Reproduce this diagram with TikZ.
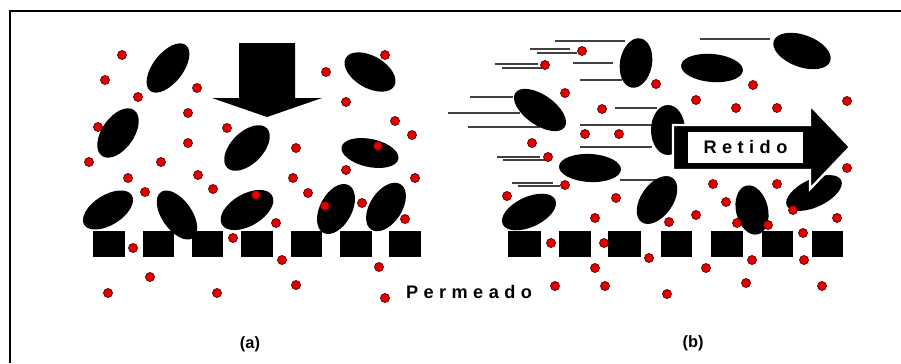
\documentclass[tikz,border=0pt]{standalone}
\usepackage{fontspec}
\setmainfont{Liberation Sans}
\newfontfamily\widefont[LetterSpace=30]{Liberation Sans}

\begin{document}
\begin{tikzpicture}[x=0.03cm, y=-0.03cm]

% definitions
\tikzstyle{particle} = [fill=black]
\tikzstyle{solute} = [draw=red!35!black, fill=red!90!black, line width=0.6pt]
\tikzstyle{membrane} = [fill=black]
\tikzstyle{trail} = [draw=black!75, line width=0.9pt]
\tikzstyle{caption} = [font=\widefont\bfseries\fontsize{15.5}{18}\selectfont]
\tikzstyle{tag} = [font=\bfseries\fontsize{14}{16}\selectfont]

\useasboundingbox (0,0) rectangle (901,363);

% frame
\draw [line width=1.7pt] (10,363) -- (10,11) -- (901,11);

% motion lines (cross flow)
\draw [trail] (555,41) -- (625,41);
\draw [trail] (530,49) -- (570,49);
\draw [trail] (537,53) -- (577,53);
\draw [trail] (495,64) -- (538,64);
\draw [trail] (502,68) -- (542,68);
\draw [trail] (573,63) -- (613,63);
\draw [trail] (580,80) -- (622,80);
\draw [trail] (470,97) -- (513,97);
\draw [trail] (448,113) -- (520,113);
\draw [trail] (468,127) -- (540,127);
\draw [trail] (615,108) -- (657,108);
\draw [trail] (580,125) -- (653,125);
\draw [trail] (580,147) -- (652,147);
\draw [trail] (497,157) -- (540,157);
\draw [trail] (503,160) -- (545,160);
\draw [trail] (512,183) -- (553,183);
\draw [trail] (518,186) -- (560,186);
\draw [trail] (620,180) -- (660,180);
\draw [trail] (700,39) -- (770,39);

% large particles, dead-end filtration
\fill [particle] (168,68) ellipse [x radius=29, y radius=15, rotate=52];
\fill [particle] (370,72) ellipse [x radius=28, y radius=16, rotate=-30];
\fill [particle] (118,133) ellipse [x radius=28, y radius=16, rotate=55];
\fill [particle] (247,148) ellipse [x radius=28, y radius=16, rotate=45];
\fill [particle] (370,153) ellipse [x radius=29, y radius=14, rotate=-12];
\fill [particle] (108,210) ellipse [x radius=28, y radius=15, rotate=32];
\fill [particle] (177,215) ellipse [x radius=28, y radius=15, rotate=-55];
\fill [particle] (247,210) ellipse [x radius=29, y radius=16, rotate=30];
\fill [particle] (336,209) ellipse [x radius=27, y radius=16, rotate=62];
\fill [particle] (386,207) ellipse [x radius=27, y radius=16, rotate=57];

% large particles, cross-flow filtration
\fill [particle] (636,63) ellipse [x radius=25, y radius=16, rotate=80];
\fill [particle] (712,68) ellipse [x radius=31, y radius=14, rotate=-5];
\fill [particle] (802,51) ellipse [x radius=30, y radius=16, rotate=-20];
\fill [particle] (540,110) ellipse [x radius=30, y radius=15, rotate=-35];
\fill [particle] (590,168) ellipse [x radius=31, y radius=14, rotate=-3];
\fill [particle] (668,130) ellipse [x radius=25, y radius=17, rotate=90];
\fill [particle] (529,212) ellipse [x radius=29, y radius=15, rotate=25];
\fill [particle] (657,200) ellipse [x radius=27, y radius=16, rotate=55];
\fill [particle] (752,210) ellipse [x radius=25, y radius=16, rotate=103];
\fill [particle] (814,193) ellipse [x radius=30, y radius=14, rotate=25];

% membrane
\fill [membrane] (93,231) rectangle (125,257);
\fill [membrane] (143,231) rectangle (174,257);
\fill [membrane] (192,231) rectangle (223,257);
\fill [membrane] (241,231) rectangle (273,257);
\fill [membrane] (291,231) rectangle (322,257);
\fill [membrane] (340,231) rectangle (372,257);
\fill [membrane] (389,231) rectangle (421,257);

\fill [membrane] (508,231) rectangle (541,257);
\fill [membrane] (559,231) rectangle (591,257);
\fill [membrane] (608,231) rectangle (641,257);
\fill [membrane] (661,231) rectangle (692,257);
\fill [membrane] (711,231) rectangle (743,257);
\fill [membrane] (762,231) rectangle (793,257);
\fill [membrane] (812,231) rectangle (843,257);

% feed direction
\fill (239,43) -- (295,43) -- (295,98) -- (322,98) -- (267,117) -- (212,98) -- (239,98) -- cycle;

% retentate direction
\filldraw [draw=white, line width=2pt, line join=miter] (673,125) -- (810,125) -- (810,105) -- (850,147) -- (810,189) -- (810,170) -- (673,170) -- cycle;
\node (retained) [caption, fill=white, inner sep=0pt, minimum width=3.45cm, minimum height=0.93cm] at (745.5,147.5) {Retido};

% solutes, left
\draw [solute] (122,55) circle [radius=4.5];
\draw [solute] (105,80) circle [radius=4.5];
\draw [solute] (138,97) circle [radius=4.5];
\draw [solute] (197,88) circle [radius=4.5];
\draw [solute] (188,113) circle [radius=4.5];
\draw [solute] (98,127) circle [radius=4.5];
\draw [solute] (227,128) circle [radius=4.5];
\draw [solute] (188,143) circle [radius=4.5];
\draw [solute] (296,148) circle [radius=4.5];
\draw [solute] (326,72) circle [radius=4.5];
\draw [solute] (385,55) circle [radius=4.5];
\draw [solute] (346,102) circle [radius=4.5];
\draw [solute] (395,121) circle [radius=4.5];
\draw [solute] (412,135) circle [radius=4.5];
\draw [solute] (378,146) circle [radius=4.5];
\draw [solute] (89,162) circle [radius=4.5];
\draw [solute] (161,162) circle [radius=4.5];
\draw [solute] (128,178) circle [radius=4.5];
\draw [solute] (198,175) circle [radius=4.5];
\draw [solute] (293,178) circle [radius=4.5];
\draw [solute] (346,170) circle [radius=4.5];
\draw [solute] (415,178) circle [radius=4.5];
\draw [solute] (145,192) circle [radius=4.5];
\draw [solute] (213,189) circle [radius=4.5];
\draw [solute] (256,195) circle [radius=4.5];
\draw [solute] (308,193) circle [radius=4.5];
\draw [solute] (325,206) circle [radius=4.5];
\draw [solute] (362,203) circle [radius=4.5];
\draw [solute] (405,219) circle [radius=4.5];
\draw [solute] (276,223) circle [radius=4.5];
\draw [solute] (233,238) circle [radius=4.5];
\draw [solute] (133,248) circle [radius=4.5];
\draw [solute] (282,260) circle [radius=4.5];
\draw [solute] (379,267) circle [radius=4.5];
\draw [solute] (150,277) circle [radius=4.5];
\draw [solute] (296,285) circle [radius=4.5];
\draw [solute] (108,293) circle [radius=4.5];
\draw [solute] (217,293) circle [radius=4.5];
\draw [solute] (385,298) circle [radius=4.5];

% solutes, right
\draw [solute] (582,51) circle [radius=4.5];
\draw [solute] (545,65) circle [radius=4.5];
\draw [solute] (565,93) circle [radius=4.5];
\draw [solute] (656,84) circle [radius=4.5];
\draw [solute] (696,100) circle [radius=4.5];
\draw [solute] (753,85) circle [radius=4.5];
\draw [solute] (736,108) circle [radius=4.5];
\draw [solute] (777,108) circle [radius=4.5];
\draw [solute] (847,101) circle [radius=4.5];
\draw [solute] (602,109) circle [radius=4.5];
\draw [solute] (585,134) circle [radius=4.5];
\draw [solute] (619,134) circle [radius=4.5];
\draw [solute] (532,143) circle [radius=4.5];
\draw [solute] (548,157) circle [radius=4.5];
\draw [solute] (847,168) circle [radius=4.5];
\draw [solute] (565,185) circle [radius=4.5];
\draw [solute] (507,196) circle [radius=4.5];
\draw [solute] (616,198) circle [radius=4.5];
\draw [solute] (713,184) circle [radius=4.5];
\draw [solute] (777,184) circle [radius=4.5];
\draw [solute] (726,202) circle [radius=4.5];
\draw [solute] (595,218) circle [radius=4.5];
\draw [solute] (669,222) circle [radius=4.5];
\draw [solute] (696,215) circle [radius=4.5];
\draw [solute] (737,223) circle [radius=4.5];
\draw [solute] (768,225) circle [radius=4.5];
\draw [solute] (793,210) circle [radius=4.5];
\draw [solute] (837,218) circle [radius=4.5];
\draw [solute] (803,233) circle [radius=4.5];
\draw [solute] (551,243) circle [radius=4.5];
\draw [solute] (604,243) circle [radius=4.5];
\draw [solute] (649,258) circle [radius=4.5];
\draw [solute] (752,260) circle [radius=4.5];
\draw [solute] (804,260) circle [radius=4.5];
\draw [solute] (595,268) circle [radius=4.5];
\draw [solute] (706,268) circle [radius=4.5];
\draw [solute] (555,286) circle [radius=4.5];
\draw [solute] (605,286) circle [radius=4.5];
\draw [solute] (746,283) circle [radius=4.5];
\draw [solute] (822,286) circle [radius=4.5];
\draw [solute] (667,294) circle [radius=4.5];

% texts
\node (permeate) [caption] at (469,292) {Permeado};
\node (panela) [tag] at (250,344) {(a)};
\node (panelb) [tag] at (693,343) {(b)};

\end{tikzpicture}
\end{document}
